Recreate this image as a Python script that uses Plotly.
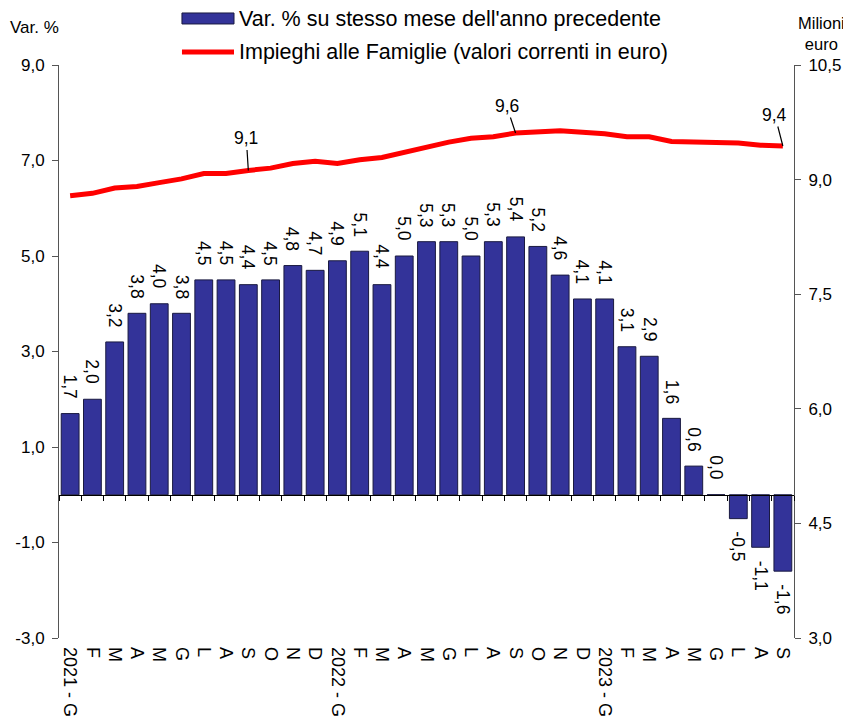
import plotly.graph_objects as go

# ---- data ----
months = ["2021 - G", "F", "M", "A", "M", "G", "L", "A", "S", "O", "N", "D",
          "2022 - G", "F", "M", "A", "M", "G", "L", "A", "S", "O", "N", "D",
          "2023 - G", "F", "M", "A", "M", "G", "L", "A", "S"]
var_pct = [1.7, 2.0, 3.2, 3.8, 4.0, 3.8, 4.5, 4.5, 4.4, 4.5, 4.8, 4.7,
           4.9, 5.1, 4.4, 5.0, 5.3, 5.3, 5.0, 5.3, 5.4, 5.2, 4.6, 4.1,
           4.1, 3.1, 2.9, 1.6, 0.6, 0.0, -0.5, -1.1, -1.6]
impieghi = [8.79, 8.82, 8.89, 8.91, 8.96, 9.01, 9.08, 9.08, 9.12, 9.15, 9.21, 9.24,
            9.21, 9.26, 9.29, 9.36, 9.43, 9.49, 9.54, 9.56, 9.61, 9.62, 9.64, 9.62,
            9.60, 9.56, 9.56, 9.50, 9.49, 9.49, 9.48, 9.45, 9.44]
left_ticks = [-3, -1, 1, 3, 5, 7, 9]
right_ticks = [3.0, 4.5, 6.0, 7.5, 9.0, 10.5]
labelled_points = [8, 20, 32]
label_offsets = [(-2, -32), (-9, -27), (-8, -31)]
legend_bar = "Var. % su stesso mese dell'anno precedente"
legend_line = "Impieghi alle Famiglie (valori correnti in euro)"

def it(v):
    return f"{v:.1f}".replace(".", ",")

FONT = "Arial, Liberation Sans, sans-serif"
xs = list(range(len(months)))

fig = go.Figure()
fig.add_trace(go.Bar(
    x=xs, y=var_pct, xaxis="x", yaxis="y",
    marker=dict(color="#333399", line=dict(color="#1a1a40", width=1)),
    width=0.8, showlegend=False, name=legend_bar,
))
fig.add_trace(go.Scatter(
    x=xs, y=impieghi, xaxis="x2", yaxis="y2", mode="lines",
    line=dict(color="#ff0000", width=5), showlegend=False, name=legend_line,
))

annotations = []
# bar value labels (rotated, placed beyond the bar end)
for x, v in zip(xs, var_pct):
    annotations.append(dict(
        x=x, y=v, xref="x", yref="y", text=it(v), textangle=90, showarrow=False,
        xanchor="center", yanchor="bottom" if v >= 0 else "top",
        yshift=13 if v >= 0 else -11,
        font=dict(size=17.5, color="black", family=FONT),
    ))
# line value labels with leader lines
for i, (ax, ay) in zip(labelled_points, label_offsets):
    annotations.append(dict(
        x=xs[i], y=impieghi[i], xref="x2", yref="y2", text=it(impieghi[i]),
        showarrow=True, arrowhead=0, arrowwidth=1.2, arrowcolor="black",
        ax=ax, ay=ay, font=dict(size=17.5, color="black", family=FONT),
        standoff=0,
    ))

# axis titles
annotations.append(dict(x=-0.033, y=1.0663, xref="paper", yref="paper", text="Var. %",
                        xanchor="center", yanchor="middle",
                        showarrow=False, font=dict(size=17, family=FONT, color="black")))
annotations.append(dict(x=1.038, y=1.0558, xref="paper", yref="paper", text="Milioni<br>euro",
                        xanchor="center", yanchor="middle",
                        showarrow=False, font=dict(size=16.5, family=FONT, color="black")))
# legend text
annotations.append(dict(x=0.2422, y=1.081, xref="paper", yref="paper", text=legend_bar,
                        xanchor="left", yanchor="middle", showarrow=False,
                        font=dict(size=21.5, family=FONT, color="black")))
annotations.append(dict(x=0.2422, y=1.0227, xref="paper", yref="paper", text=legend_line,
                        xanchor="left", yanchor="middle", showarrow=False,
                        font=dict(size=21.5, family=FONT, color="black")))

shapes = [
    dict(type="rect", xref="paper", yref="paper", x0=0.1673, x1=0.2381, y0=1.0716, y1=1.0908,
         fillcolor="#333399", line=dict(color="#1a1a40", width=1)),
    dict(type="line", xref="paper", yref="paper", x0=0.1673, x1=0.2381, y0=1.0227, y1=1.0227,
         line=dict(color="#ff0000", width=5)),
]

rng = [-0.5, len(months) - 0.5]
fig.update_layout(
    width=843, height=708,
    margin=dict(l=51, r=57, t=57, b=78, autoexpand=False),
    paper_bgcolor="white", plot_bgcolor="white",
    separators=",.",
    font=dict(family=FONT, size=17, color="black"),
    xaxis=dict(range=rng, anchor="free", position=0.25, showline=True, linecolor="black",
               linewidth=1, ticks="outside", ticklen=5, tickcolor="black",
               tickvals=[i - 0.5 for i in range(len(months) + 1)], automargin=False,
               showticklabels=False, showgrid=False, zeroline=False),
    xaxis2=dict(range=rng, overlaying="x", anchor="y", side="bottom",
                tickvals=xs, ticktext=months, tickangle=90, ticks="", automargin=False,
                showline=False, showgrid=False, zeroline=False, ticklabelstandoff=8,
                tickfont=dict(size=18, family=FONT, color="black")),
    yaxis=dict(range=[-3, 9], tickvals=left_ticks, ticktext=[it(v) for v in left_ticks],
               showline=True, linecolor="#555555", ticks="outside", ticklen=6,
               tickcolor="#555555", showgrid=False, zeroline=False, ticklabelstandoff=4,
               automargin=False, tickfont=dict(size=17, family=FONT, color="black")),
    yaxis2=dict(range=[3, 10.5], tickvals=right_ticks, ticktext=[it(v) for v in right_ticks],
                overlaying="y", side="right", anchor="x2",
                showline=True, linecolor="#555555", ticks="outside", ticklen=6,
                tickcolor="#555555", showgrid=False, zeroline=False, ticklabelstandoff=4,
                automargin=False, tickfont=dict(size=17, family=FONT, color="black")),
    annotations=annotations,
    shapes=shapes,
    showlegend=False,
)

fig.write_html("out.html")
